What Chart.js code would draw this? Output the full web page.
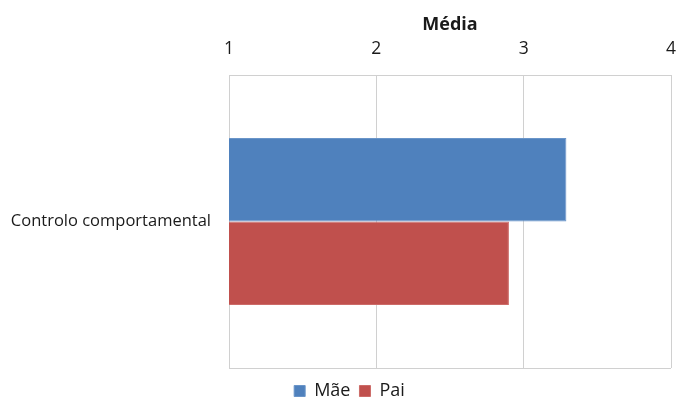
<!DOCTYPE html>
<html>
<head>
<meta charset="utf-8">
<script src="https://cdn.jsdelivr.net/npm/chart.js@4"></script>
<style>
  html, body { margin: 0; padding: 0; background: #fff; }
</style>
</head>
<body>
<canvas id="c" width="680" height="405"></canvas>
<script>
const categories = ['Controlo comportamental'];
const seriesNames = ['Mãe', 'Pai'];
const maeValues = [3.29];
const paiValues = [2.90];
const xTicks = [1, 2, 3, 4];

const FONT = '"Open Sans", sans-serif';
const grid = '#d0d0d0';

// nudge the legend a little right and down, as in the original
const legendShift = {
  id: 'legendShift',
  afterLayout(chart) {
    const lg = chart.legend;
    lg.left += 14;
    lg.right += 14;
    lg.top += 5;
    lg.bottom += 5;
  }
};

new Chart(document.getElementById('c'), {
  type: 'bar',
  data: {
    labels: categories,
    datasets: [
      { label: seriesNames[0], data: maeValues, backgroundColor: '#4f81bd', borderColor: '#6a95c9', borderWidth: 1 },
      { label: seriesNames[1], data: paiValues, backgroundColor: '#c0504d', borderColor: '#cc6b68', borderWidth: 1 }
    ]
  },
  plugins: [legendShift],
  options: {
    indexAxis: 'y',
    responsive: false,
    animation: false,
    devicePixelRatio: 1,
    layout: { padding: { left: 0, right: 9, top: 0, bottom: 0 } },
    datasets: { bar: { categoryPercentage: 0.57, barPercentage: 1 } },
    scales: {
      x: {
        position: 'top',
        min: 1, max: 4,
        afterBuildTicks: s => { s.ticks = xTicks.map(v => ({ value: v })); },
        afterFit: s => { s.height = 75; s.paddingLeft = 0; s.paddingRight = 0; },
        grid: { color: grid, drawTicks: false },
        border: { color: grid },
        ticks: { color: '#1a1a1a', font: { family: FONT, size: 17.5 }, padding: 15 },
        title: { display: true, text: 'Média', color: '#1a1a1a', font: { family: FONT, size: 18, weight: 'bold' }, padding: { top: 14, bottom: 0 } }
      },
      y: {
        afterFit: s => { s.width = 229; },
        grid: { color: grid, drawTicks: false },
        border: { color: grid },
        ticks: { color: '#1a1a1a', font: { family: FONT, size: 16.5 }, padding: 18 }
      }
    },
    plugins: {
      legend: {
        position: 'bottom',
        labels: { boxWidth: 11, boxHeight: 11, color: '#1a1a1a', font: { family: FONT, size: 18 }, padding: 9 }
      },
      tooltip: { enabled: false }
    }
  }
});
</script>
</body>
</html>
